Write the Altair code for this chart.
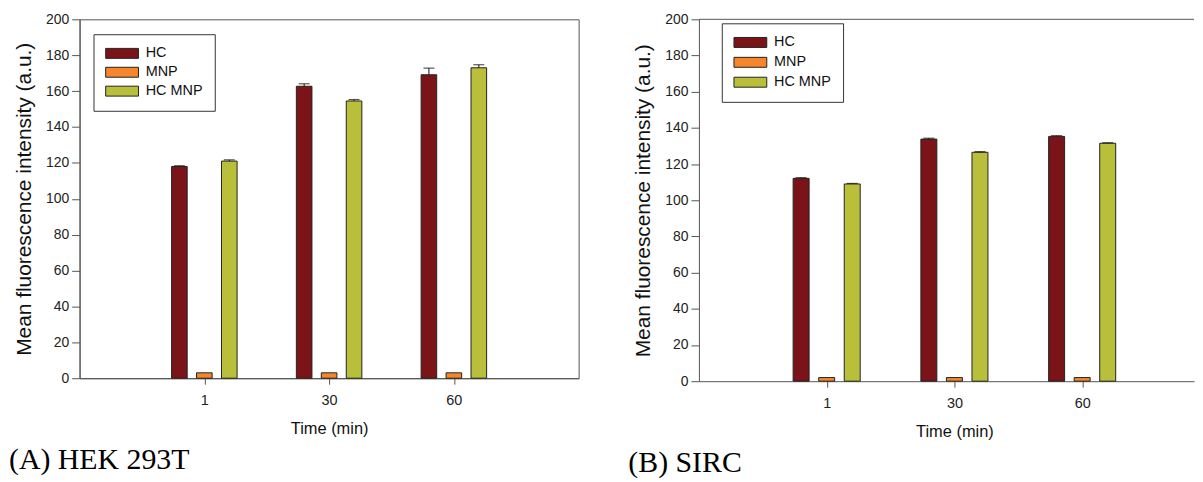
import altair as alt
import pandas as pd

# ---------------- data ----------------
times = ["1", "30", "60"]
groups = ["HC", "MNP", "HC MNP"]
colors = ["#7b1418", "#f5862b", "#b9bf3b"]

# (A) HEK 293T
hek_hc = [118.0, 162.7, 169.1]
hek_hc_err = [0.4, 1.4, 3.7]
hek_mnp = [3.0, 3.0, 3.0]
hek_mnp_err = [0.0, 0.0, 0.0]
hek_hcmnp = [121.0, 154.5, 173.0]
hek_hcmnp_err = [0.7, 0.8, 1.7]

# (B) SIRC
sirc_hc = [112.1, 133.8, 135.3]
sirc_hc_err = [0.4, 0.5, 0.4]
sirc_mnp = [2.0, 2.0, 2.0]
sirc_mnp_err = [0.0, 0.0, 0.0]
sirc_hcmnp = [109.0, 126.5, 131.5]
sirc_hcmnp_err = [0.3, 0.4, 0.3]


def make_df(series, errs):
    rows = []
    for gi, (g, vals, es) in enumerate(zip(groups, series, errs)):
        for ti, t in enumerate(times):
            rows.append({"time": t, "ti": ti + 1, "group": g, "gi": gi,
                         "value": vals[ti], "err": es[ti]})
    return pd.DataFrame(rows)


hek_df = make_df([hek_hc, hek_mnp, hek_hcmnp], [hek_hc_err, hek_mnp_err, hek_hcmnp_err])
sirc_df = make_df([sirc_hc, sirc_mnp, sirc_hcmnp], [sirc_hc_err, sirc_mnp_err, sirc_hcmnp_err])

FONT = "Liberation Sans"
AXIS_COL = "#555555"
label_expr = "[" + ",".join(["''"] + ["'%s'" % t for t in times]) + "][datum.value]"


def panel(df, title, width, height, xmax, lx, ly, rowpad, framed, title_x=None):
    x_scale = alt.Scale(domain=[0, xmax], nice=False, zero=False)
    y_scale = alt.Scale(domain=[0, 200], nice=False)
    xa = dict(title="Time (min)", values=[1, 2, 3], labelExpr=label_expr, grid=False,
              tickSize=6, labelPadding=9, titlePadding=14, titleFontSize=16.5,
              labelFontSize=14.5, labelAngle=0, labelOverlap=False)
    if title_x is not None:
        xa["titleX"] = title_x
    x_axis = alt.Axis(**xa)
    y_axis = alt.Axis(title="Mean fluorescence intensity (a.u.)", values=list(range(0, 201, 20)),
                      grid=False, tickSize=8, labelPadding=3, titlePadding=11,
                      titleFontSize=21, labelFontSize=14, labelOverlap=False)

    base = alt.Chart(df).transform_calculate(
        pos="datum.ti + (datum.gi - 1) * 0.2",
        x0="datum.ti + (datum.gi - 1) * 0.2 - 0.0625",
        x1="datum.ti + (datum.gi - 1) * 0.2 + 0.0625",
        top="datum.value + datum.err",
    )

    legend = alt.Legend(
        title=None, orient="none", legendX=lx, legendY=ly,
        symbolType="M-3.3,-1H3.3V1H-3.3Z", symbolSize=100,
        symbolStrokeColor="#222222", symbolStrokeWidth=1, symbolOpacity=1,
        symbolOffset=9.5, labelOffset=16.5, labelFontSize=14.5, labelFont=FONT,
        labelColor="#111111", rowPadding=rowpad, padding=12,
        strokeColor="#333333", fillColor="white", cornerRadius=0,
    )

    bars = base.mark_rect(stroke="#222222", strokeWidth=1).encode(
        x=alt.X("x0:Q", scale=x_scale, axis=x_axis),
        x2="x1:Q",
        y=alt.Y("value:Q", scale=y_scale, axis=y_axis),
        y2=alt.datum(0),
        color=alt.Color("group:N", scale=alt.Scale(domain=groups, range=colors), legend=legend),
    )
    errdf = base.transform_filter("datum.err > 0")
    stems = errdf.mark_rule(color="#111111", strokeWidth=1).encode(
        x=alt.X("pos:Q", scale=x_scale, axis=x_axis),
        y=alt.Y("value:Q", scale=y_scale, axis=y_axis), y2="top:Q")
    caps = errdf.mark_tick(orient="horizontal", size=11, thickness=1.2, color="#111111").encode(
        x=alt.X("pos:Q", scale=x_scale, axis=x_axis),
        y=alt.Y("top:Q", scale=y_scale, axis=y_axis))

    layers = [bars, stems, caps]
    if not framed:
        topline = alt.Chart(pd.DataFrame({"v": [200]})).mark_rule(
            color=AXIS_COL, strokeWidth=1).encode(y=alt.Y("v:Q", scale=y_scale, axis=y_axis))
        layers.append(topline)

    view = {"stroke": AXIS_COL, "strokeWidth": 1} if framed else {"stroke": "transparent"}
    return alt.layer(*layers).properties(
        width=width, height=height, view=view,
        title=alt.TitleParams(text=title, orient="bottom", anchor="start", frame="group",
                              font="Liberation Serif", fontSize=30, fontWeight="normal",
                              color="#000000", offset=8, dx=-71),
    )


left = panel(hek_df, "(A) HEK 293T", 502, 361, 4.0, 14, 15, 3, True)
right_w = 498
right = panel(sirc_df, "(B) SIRC", right_w, 364, right_w / 128.5, 23, 4, 4, False,
              title_x=257)

chart = alt.hconcat(left, right, spacing=48).resolve_scale(color="independent").properties(
    padding={"left": 0, "top": 2, "right": 0, "bottom": 0}
).configure(font=FONT).configure_axis(
    domainColor=AXIS_COL, tickColor=AXIS_COL, labelColor="#222222", titleColor="#111111",
    labelFont=FONT, titleFont=FONT, titleFontWeight="normal",
)

chart.save("out.html", embed_options={"renderer": "svg", "actions": False})
